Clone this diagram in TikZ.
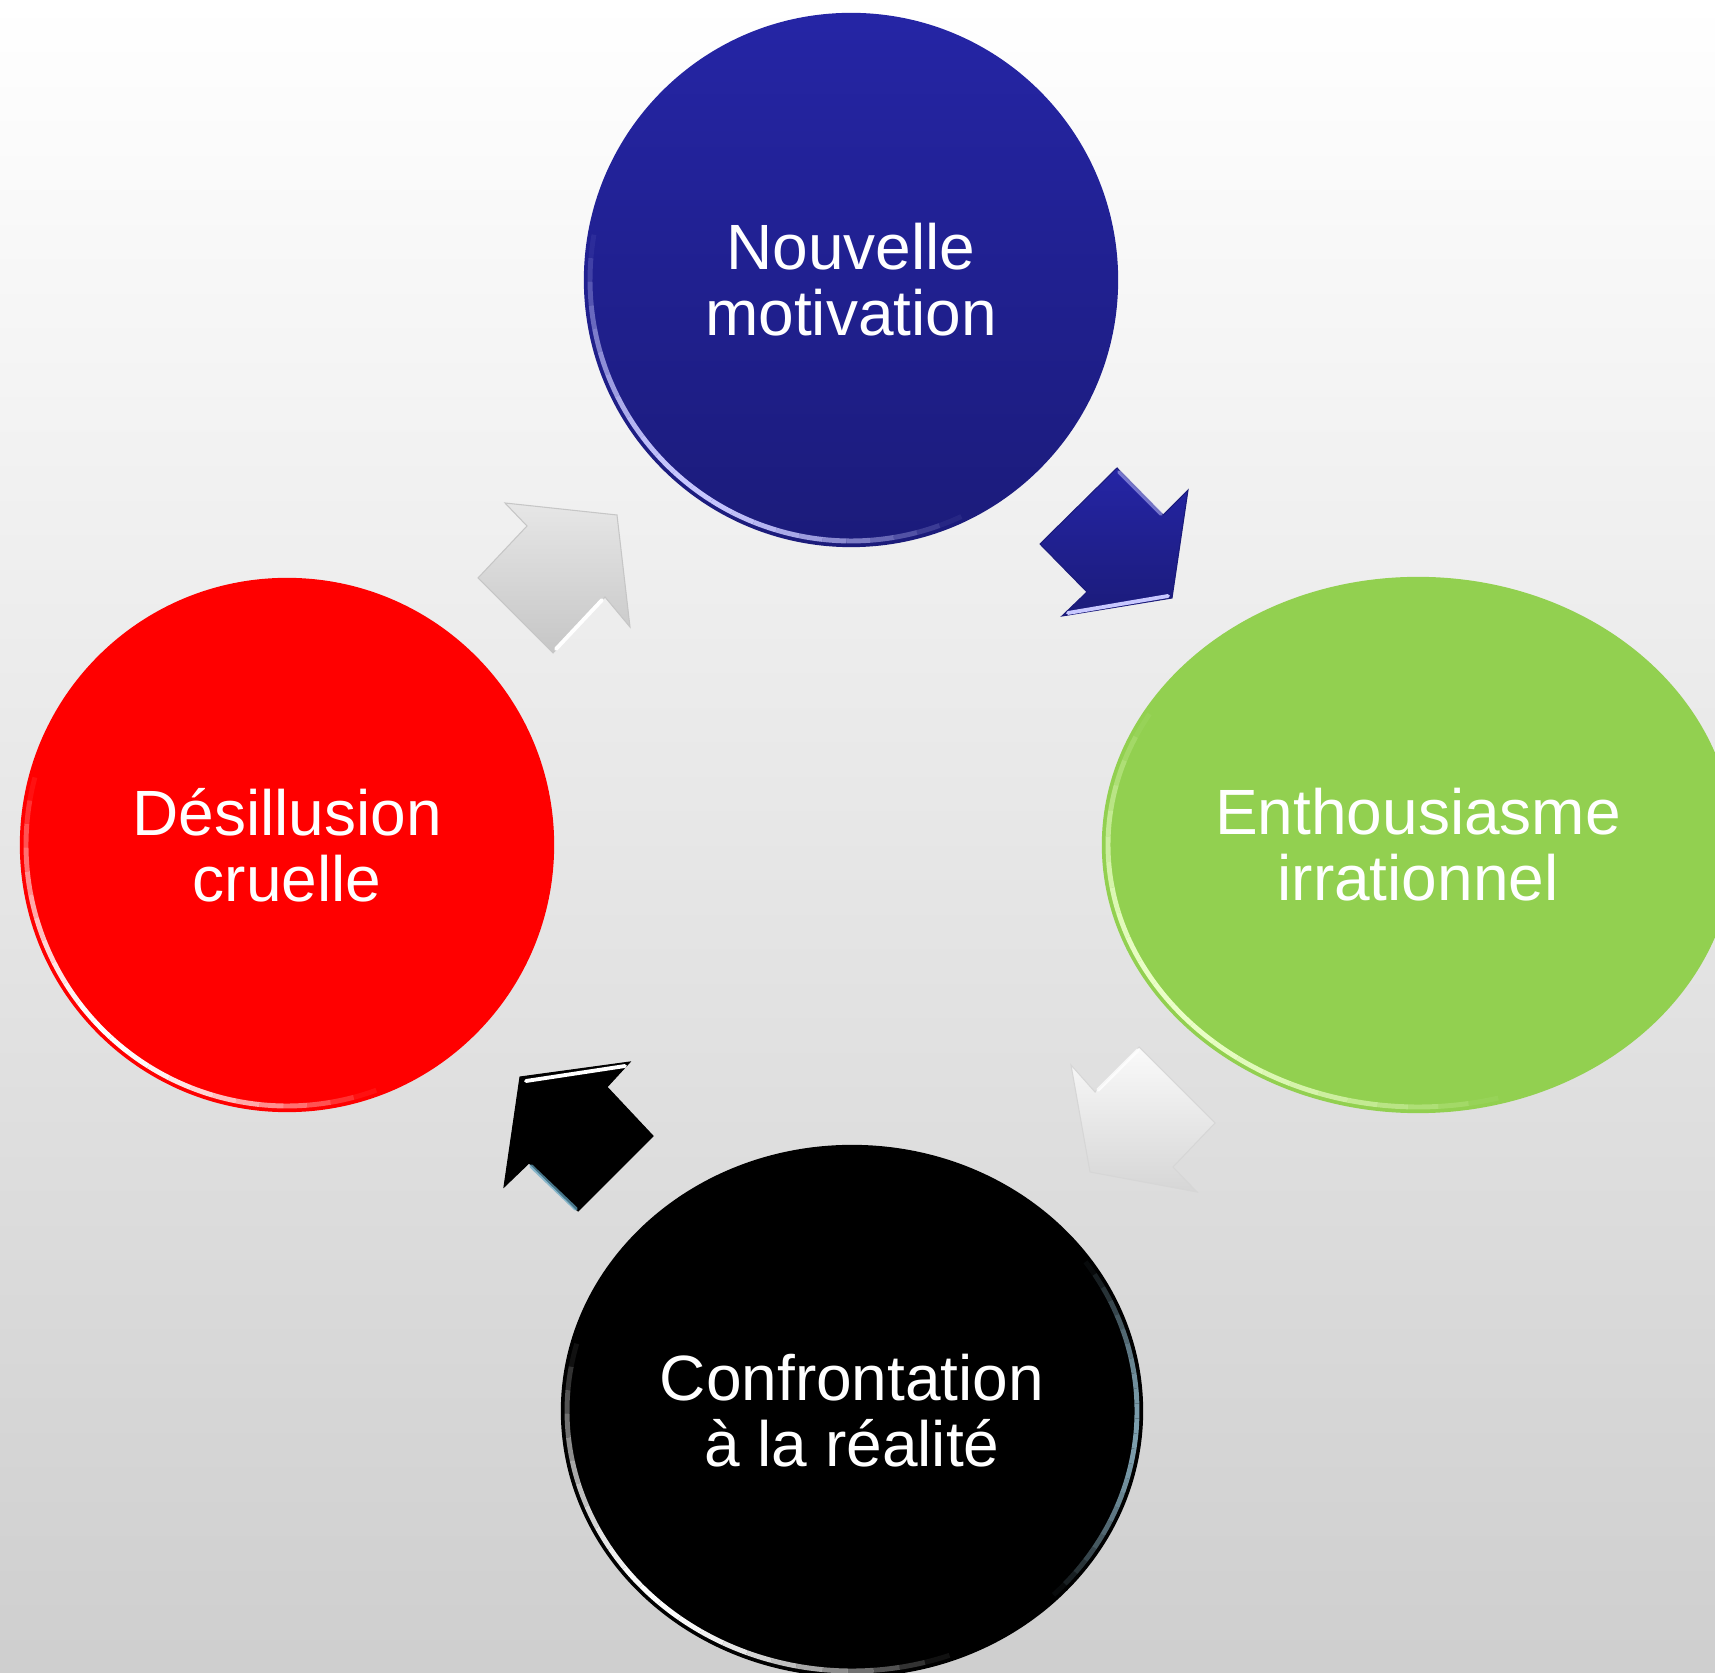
\documentclass[tikz,border=0pt]{standalone}
\usepackage{fontspec}
\setmainfont{Liberation Sans}
\usetikzlibrary{shapes.geometric,calc}

\definecolor{nouvtop}{RGB}{37,37,165}
\definecolor{nouvbot}{RGB}{27,27,122}
\definecolor{nouvrim}{RGB}{200,200,255}
\definecolor{enthgreen}{RGB}{146,208,80}
\definecolor{enthrim}{RGB}{235,255,200}
\definecolor{greylight}{RGB}{250,250,250}
\definecolor{greymid}{RGB}{214,214,214}
\definecolor{greydark}{RGB}{198,198,198}

\tikzset{
  stage/.style={inner sep=0pt, outer sep=0pt, text=white, align=center,
    font=\fontsize{18.2}{18.8}\selectfont},
  rim/.style={draw=#1, line width=1.1pt, line cap=round},
  blockarrow/.style={line join=miter, line width=0.3pt}
}

% light along a rim, fading at both ends: centre, x radius, y radius, from, to, colour
\newcommand{\rimglow}[6]{%
  \foreach \k in {0,...,23}{
    \pgfmathsetmacro{\ra}{#4+(#5-#4)*\k/24}
    \pgfmathsetmacro{\rb}{#4+(#5-#4)*(\k+1)/24}
    \pgfmathsetmacro{\op}{sin(180*(\k+0.5)/24)}
    \draw[draw=#6, line width=1.4pt, opacity=\op]
      ($(#1)+(\ra:#2 and #3)$) arc[start angle=\ra, end angle=\rb, x radius=#2, y radius=#3];
  }}

\begin{document}
\begin{tikzpicture}[x=0.01cm, y=0.01cm]
\useasboundingbox (0,0) rectangle (1715,1672);
\clip (0,0) rectangle (1715,1672);
\shade[top color=white, bottom color=black!19] (0,0) rectangle (1715,1672);

% the four stages
\node[stage, circle, minimum size=5.34cm, top color=nouvtop, bottom color=nouvbot] (nouvelle) at (851,1392) {Nouvelle\\motivation};
\node[stage, ellipse, minimum width=6.32cm, minimum height=5.36cm, fill=enthgreen] (enthousiasme) at (1418,827) {Enthousiasme\\irrationnel};
\node[stage, ellipse, minimum width=5.82cm, minimum height=5.32cm, fill=black] (confrontation) at (852,261) {Confrontation\\à la réalité};
\node[stage, circle, minimum size=5.34cm, fill=red] (desillusion) at (287,827) {Désillusion\\cruelle};

% bevel light on the rims
\rimglow{nouvelle}{261}{261}{170}{295}{nouvrim}
\rimglow{enthousiasme}{310}{262}{150}{285}{enthrim}
\rimglow{confrontation}{285}{260}{165}{290}{white}
\rimglow{confrontation}{285}{260}{-45}{35}{cyan!30!gray}
\rimglow{desillusion}{261}{261}{165}{290}{white}

% arrows between the stages
\path[blockarrow, top color=nouvtop, bottom color=nouvbot, draw=nouvbot]
  (1117,1204) -- (1163,1157) -- (1188,1182) -- (1172,1074) -- (1062,1056) -- (1087,1080) -- (1040,1128) -- cycle;
\draw[rim=nouvrim] (1068,1059) -- (1168,1076);
\draw[rim=nouvrim, opacity=0.5] (1119,1200) -- (1161,1158);

\path[blockarrow, top color=greylight, bottom color=greymid, draw=greymid]
  (1139,625) -- (1095,580) -- (1071,607) -- (1090,500) -- (1197,480) -- (1173,505) -- (1215,549) -- cycle;
\draw[rim=white, opacity=0.8] (1098,582) -- (1138,622);

\path[blockarrow, fill=black, draw=black]
  (653,536) -- (607,585) -- (630,610) -- (520,595) -- (504,485) -- (529,509) -- (578,461) -- cycle;
\draw[rim=white] (526,591) -- (625,606);
\draw[rim=cyan!50!gray, opacity=0.7] (531,506) -- (576,463);

\path[blockarrow, top color=greymid!60!white, bottom color=greydark, draw=greydark]
  (478,1094) -- (527,1146) -- (505,1169) -- (617,1157) -- (630,1045) -- (605,1075) -- (553,1019) -- cycle;
\draw[rim=white] (556,1023) -- (602,1072);
\end{tikzpicture}
\end{document}
